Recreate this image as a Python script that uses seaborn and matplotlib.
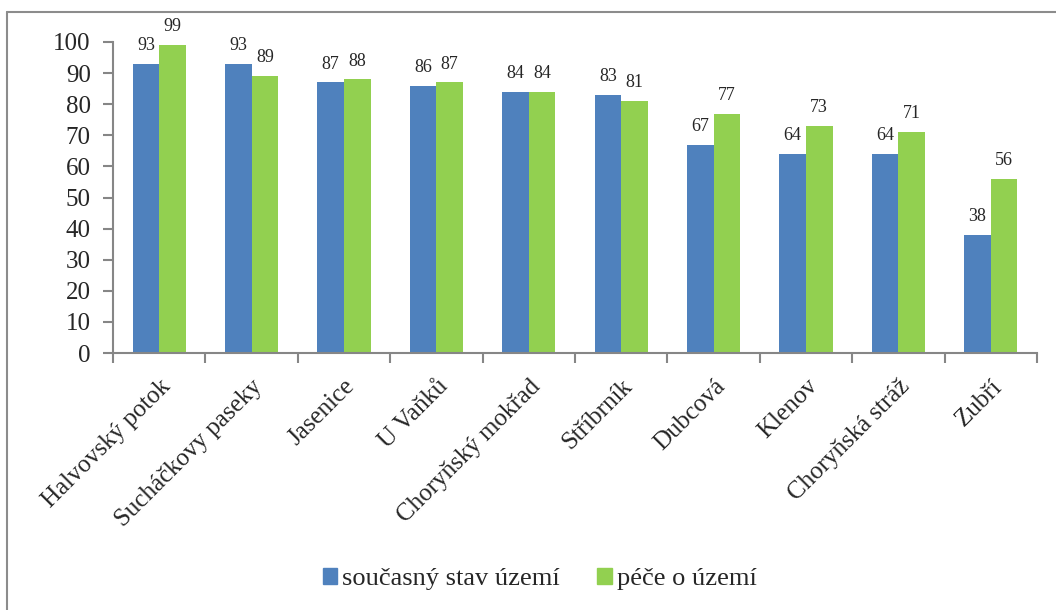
import matplotlib
matplotlib.use("Agg")
import matplotlib.pyplot as plt
import matplotlib.font_manager as fm
import seaborn as sns
import pandas as pd
from matplotlib.lines import Line2D

categories = ["Halvovský potok", "Sucháčkovy paseky", "Jasenice", "U Vaňků",
              "Choryňský mokřad", "Stříbrník", "Dubcová", "Klenov",
              "Choryňská stráž", "Zubří"]
series_names = ["současný stav území", "péče o území"]
current_state = [93, 93, 87, 86, 84, 83, 67, 64, 64, 38]
care = [99, 89, 88, 87, 84, 81, 77, 73, 71, 56]
y_ticks = [0, 10, 20, 30, 40, 50, 60, 70, 80, 90, 100]

df = pd.DataFrame({
    "kategorie": categories * 2,
    "serie": [series_names[0]] * len(categories) + [series_names[1]] * len(categories),
    "hodnota": current_state + care,
})

sns.set_style("white")
installed = {f.name for f in fm.fontManager.ttflist}
serif_choice = [n for n in ["Liberation Serif", "Times New Roman", "Nimbus Roman",
                            "FreeSerif", "DejaVu Serif"] if n in installed]
plt.rcParams["font.family"] = "serif"
plt.rcParams["font.serif"] = serif_choice + ["DejaVu Serif"]

fig = plt.figure(figsize=(10.56, 6.10), dpi=100)
ax = fig.add_axes([113 / 1056, 1 - 353 / 610, (1037 - 113) / 1056, (353 - 42) / 610])

palette = {series_names[0]: "#4F81BD", series_names[1]: "#92D050"}
sns.barplot(data=df, x="kategorie", y="hodnota", hue="serie", order=categories,
            hue_order=series_names, palette=palette, width=0.575, saturation=1,
            ax=ax, legend=False, edgecolor="none")

for cont in ax.containers:
    ax.bar_label(cont, fontsize=13, padding=7)

ax.set_ylim(0, 100)
ax.set_xlim(-0.5, len(categories) - 0.5)
ax.set_yticks(y_ticks)
ax.tick_params(axis="y", labelsize=18, length=7, width=1.5, color="#868686",
               direction="out", left=True, pad=9)
ax.set_xticks(range(len(categories)))
ax.set_xticklabels(categories, rotation=45, ha="right", rotation_mode="anchor",
                   fontsize=18)
ax.tick_params(axis="x", which="major", length=0, pad=16)
ax.set_xticks([i - 0.5 for i in range(len(categories) + 1)], minor=True)
ax.tick_params(axis="x", which="minor", length=7, width=1.5, color="#868686",
               direction="out", bottom=True)
ax.set_xlabel("")
ax.set_ylabel("")
for side in ["top", "right"]:
    ax.spines[side].set_visible(False)
for side in ["left", "bottom"]:
    ax.spines[side].set_color("#868686")
    ax.spines[side].set_linewidth(1.5)

handles = [plt.Rectangle((0, 0), 1, 1, color=palette[s]) for s in series_names]
fig.legend(handles, series_names, loc="center", bbox_to_anchor=(0.511, 1 - 579 / 610),
           ncol=2, frameon=False, fontsize=19, handlelength=0.55, handleheight=0.55,
           handletextpad=0.2, columnspacing=1.4)

# outer chart border (top and left visible)
fig.add_artist(Line2D([7 / 1056, 1.0], [1 - 12 / 610, 1 - 12 / 610],
                      transform=fig.transFigure, color="#8C8C8C", linewidth=1.5))
fig.add_artist(Line2D([7 / 1056, 7 / 1056], [0.0, 1 - 12 / 610],
                      transform=fig.transFigure, color="#8C8C8C", linewidth=1.5))

fig.savefig("out.png", dpi=100)
